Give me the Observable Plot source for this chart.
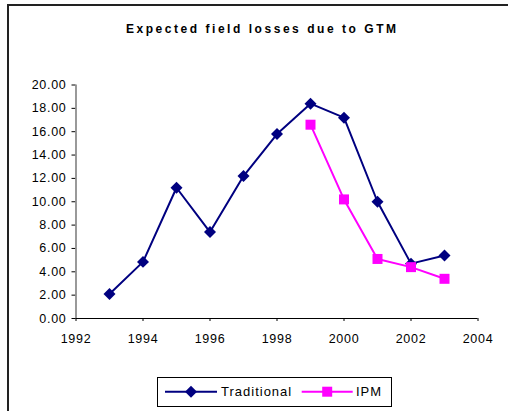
<!DOCTYPE html>
<html><head><meta charset="utf-8">
<script src="https://cdn.jsdelivr.net/npm/d3@7"></script>
<script src="https://cdn.jsdelivr.net/npm/@observablehq/plot@0.6"></script>
<style>
body{margin:0;background:#fff;}
#wrap{position:relative;width:508px;height:411px;overflow:hidden;font-family:"Liberation Sans",Arial,sans-serif;background:#fff;}
#frame{position:absolute;left:7px;top:4px;width:520px;height:420px;border-left:2px solid #222;border-top:2px solid #222;}
#title{position:absolute;left:0;top:0;}
#plot{position:absolute;left:0;top:0;}
#plot svg text{letter-spacing:0.7px;}
#legend{position:absolute;left:157px;top:377px;width:235px;height:30px;border:1px solid #000;box-sizing:border-box;}
#legend svg{position:absolute;left:0;top:0;}
</style>
</head>
<body>
<div id="wrap">
  <div id="frame"></div>
  <svg id="title" width="508" height="50"></svg>
  <div id="plot"></div>
  <div id="legend"></div>
</div>
<script>
const titleText = "Expected field losses due to GTM";
const years = [1993, 1994, 1995, 1996, 1997, 1998, 1999, 2000, 2001, 2002, 2003];
const traditional = [2.1, 4.85, 11.2, 7.4, 12.2, 15.8, 18.4, 17.2, 10.0, 4.7, 5.4];
const ipmYears = [1999, 2000, 2001, 2002, 2003];
const ipm = [16.6, 10.2, 5.1, 4.4, 3.4];
const yTicks = [0, 2, 4, 6, 8, 10, 12, 14, 16, 18, 20];
const xTicks = [1992, 1994, 1996, 1998, 2000, 2002, 2004];
const seriesNames = ["Traditional", "IPM"];
const colors = ["#000080", "#FF00FF"];

const tradData = years.map((x, i) => ({x, y: traditional[i]}));
const ipmData = ipmYears.map((x, i) => ({x, y: ipm[i]}));

// Title
const t = d3.select("#title");
t.append("text")
  .attr("x", 126).attr("y", 33)
  .attr("textLength", 270).attr("lengthAdjust", "spacing")
  .attr("font-family", "Liberation Sans, Arial, sans-serif")
  .attr("font-weight", "bold").attr("font-size", "12px")
  .attr("fill", "#000")
  .text(titleText);

const chart = Plot.plot({
  width: 508,
  height: 350,
  marginLeft: 75.5,
  marginRight: 30.5,
  marginTop: 84.5,
  marginBottom: 32,
  style: {fontFamily: "Liberation Sans, Arial, sans-serif", fontSize: "12.5px", color: "#000", background: "transparent", overflow: "visible"},
  x: {domain: [1992, 2004]},
  y: {domain: [0, 20]},
  marks: [
    Plot.axisY({ticks: yTicks, tickFormat: d3.format(".2f"), tickSize: 4, tickPadding: 5.5, label: null}),
    Plot.axisX({ticks: xTicks, tickFormat: d => String(d), tickSize: 3, tickPadding: 13, label: null}),
    Plot.ruleX([1992], {stroke: "#888", strokeWidth: 1.7}),
    Plot.ruleY([0], {stroke: "#000", strokeWidth: 1}),
    Plot.line(tradData, {x: "x", y: "y", stroke: colors[0], strokeWidth: 2}),
    Plot.dot(tradData, {x: "x", y: "y", symbol: "diamond2", r: 5.4, fill: colors[0], stroke: "none"}),
    Plot.line(ipmData, {x: "x", y: "y", stroke: colors[1], strokeWidth: 2}),
    Plot.dot(ipmData, {x: "x", y: "y", symbol: "square", r: 5.64, fill: colors[1], stroke: "none"})
  ]
});
document.getElementById("plot").appendChild(chart);

// Legend
const lg = d3.select("#legend").append("svg").attr("width", 233).attr("height", 28);
const items = [
  {name: seriesNames[0], color: colors[0], sym: d3.symbolDiamond2, size: Math.PI * 5.4 * 5.4, x0: 7, x1: 59, tx: 63},
  {name: seriesNames[1], color: colors[1], sym: d3.symbolSquare, size: Math.PI * 5.64 * 5.64, x0: 143.7, x1: 194.7, tx: 198}
];
items.forEach(it => {
  lg.append("line").attr("x1", it.x0).attr("x2", it.x1).attr("y1", 13.7).attr("y2", 13.7)
    .attr("stroke", it.color).attr("stroke-width", 2);
  lg.append("path").attr("d", d3.symbol(it.sym, it.size)())
    .attr("transform", `translate(${(it.x0 + it.x1) / 2},13.7)`).attr("fill", it.color);
  lg.append("text").attr("x", it.tx).attr("y", 18.3)
    .attr("font-family", "Liberation Sans, Arial, sans-serif").attr("font-size", "13px")
    .attr("letter-spacing", "1px").attr("fill", "#000").text(it.name);
});
</script>
</body></html>
